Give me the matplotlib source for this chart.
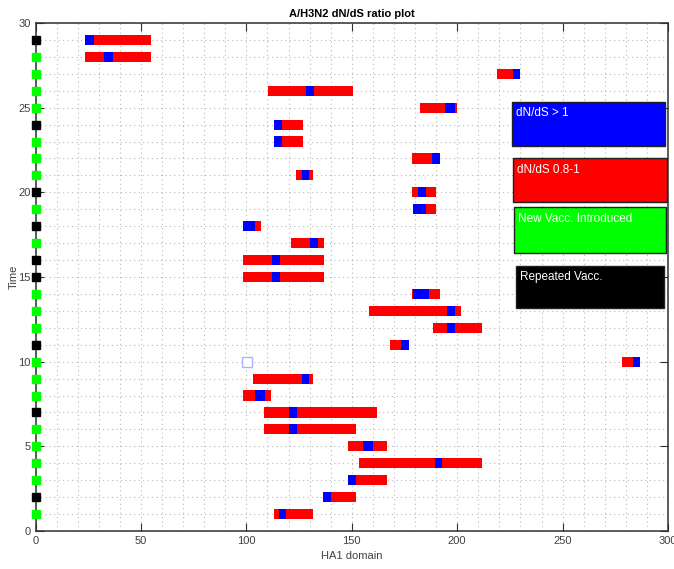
import matplotlib.pyplot as plt
from matplotlib.patches import Rectangle
from matplotlib.ticker import MultipleLocator

plt.rcParams['font.family'] = ['Liberation Sans Narrow', 'Liberation Sans', 'DejaVu Sans']

# one row per season, bottom to top
rows = list(range(1, 30))
red_start = [113.3, 136.5, 148.4, 153.6, 148.4, 108.4, 108.4, 98.4, 103.3, 278.4,
             168.2, 188.4, 158.4, 178.5, 98.3, 98.3, 121.4, 98.3, 179.2, 178.5,
             123.4, 178.5, 113.3, 113.3, 182.4, 110.4, 219.0, 23.5, 23.5]
red_end = [131.8, 152.0, 166.9, 212.0, 166.9, 152.0, 161.9, 111.7, 131.8, 286.9,
           177.2, 212.0, 201.9, 191.9, 136.9, 136.9, 136.9, 106.8, 190.0, 190.0,
           131.8, 191.9, 126.9, 126.9, 199.8, 150.8, 229.8, 54.8, 54.8]
blue_start = [115.5, 136.5, 148.4, 189.5, 155.5, 120.3, 120.3, 104.3, 126.3, 283.3,
              173.4, 195.4, 195.4, 179.2, 112.3, 112.3, 130.2, 98.3, 179.2, 181.3,
              126.4, 188.2, 113.3, 113.3, 194.3, 128.2, 226.4, 32.5, 23.5]
blue_end = [118.8, 140.0, 152.0, 192.8, 160.0, 124.0, 124.0, 108.9, 129.9, 286.9,
            177.2, 199.0, 199.2, 186.8, 116.0, 116.0, 134.2, 104.1, 185.0, 185.1,
            129.9, 192.0, 116.9, 116.9, 199.2, 132.1, 229.8, 36.9, 27.9]
# 'N' = new vaccine introduced, 'R' = repeated vaccine
vacc = ['N', 'R', 'N', 'N', 'N', 'N', 'R', 'N', 'N', 'N',
        'R', 'N', 'N', 'N', 'R', 'R', 'N', 'R', 'N', 'R',
        'N', 'N', 'N', 'R', 'N', 'N', 'N', 'N', 'R']
# single site with no substitutions
empty_site = (100.5, 10)

legend_labels = ['dN/dS > 1', 'dN/dS 0.8-1', 'New Vacc. Introduced', 'Repeated Vacc.']
legend_colors = ['#0000ff', '#ff0000', '#00ff00', '#000000']
legend_boxes = [(225.9, 22.76, 72.7, 2.6), (226.6, 19.45, 73.0, 2.55),
                (227.1, 16.44, 71.8, 2.68), (227.8, 13.16, 70.3, 2.51)]

fig = plt.figure(figsize=(6.74, 5.69), dpi=100)
ax = fig.add_axes([0.0527, 0.0668, 0.9384, 0.8928])

bar_h = 0.6
widths = [e - s for s, e in zip(red_start, red_end)]
ax.barh(rows, widths, left=red_start, height=bar_h, color='#ff0000', zorder=3)
bwidths = [e - s for s, e in zip(blue_start, blue_end)]
ax.barh(rows, bwidths, left=blue_start, height=bar_h, color='#0000ff', zorder=4)

ax.plot(*empty_site, 's', ms=7, mfc='white', mec='#b0b0ff', mew=1, zorder=4)

# vaccine markers along the time axis
for r, v in zip(rows, vacc):
    c = '#00ff00' if v == 'N' else '#000000'
    ax.plot(0, r, 's', ms=6.2, color=c, clip_on=False, zorder=5)

# text boxes used as a legend
for lab, col, (x0, y0, w, h) in zip(legend_labels, legend_colors, legend_boxes):
    ax.add_patch(Rectangle((x0, y0), w, h, facecolor=col, edgecolor='#202020',
                           lw=1, zorder=6))
    ax.text(x0 + 1.8, y0 + h - 0.7, lab, color='white', fontsize=8.5,
            ha='left', va='center', zorder=7)

ax.set_xlim(0, 300)
ax.set_ylim(0, 30)
ax.xaxis.set_major_locator(MultipleLocator(50))
ax.xaxis.set_minor_locator(MultipleLocator(10))
ax.yaxis.set_major_locator(MultipleLocator(5))
ax.yaxis.set_minor_locator(MultipleLocator(1))
ax.grid(True, which='both', ls=(0, (1, 3)), color='#b8b8b8', lw=0.8, zorder=0)
ax.tick_params(which='major', direction='in', length=5.5, top=True, right=True,
               labelsize=8, labelcolor='#404040', color='#303030')
ax.tick_params(which='minor', length=0)
for sp in ax.spines.values():
    sp.set_color('#303030')
    sp.set_linewidth(1.1)

ax.set_title('A/H3N2 dN/dS ratio plot', fontsize=8, fontweight='bold', pad=4)
ax.set_xlabel('HA1 domain', fontsize=8, color='#404040', labelpad=4)
ax.set_ylabel('Time', fontsize=8, color='#404040', labelpad=0)

fig.savefig('out.png', dpi=100)
